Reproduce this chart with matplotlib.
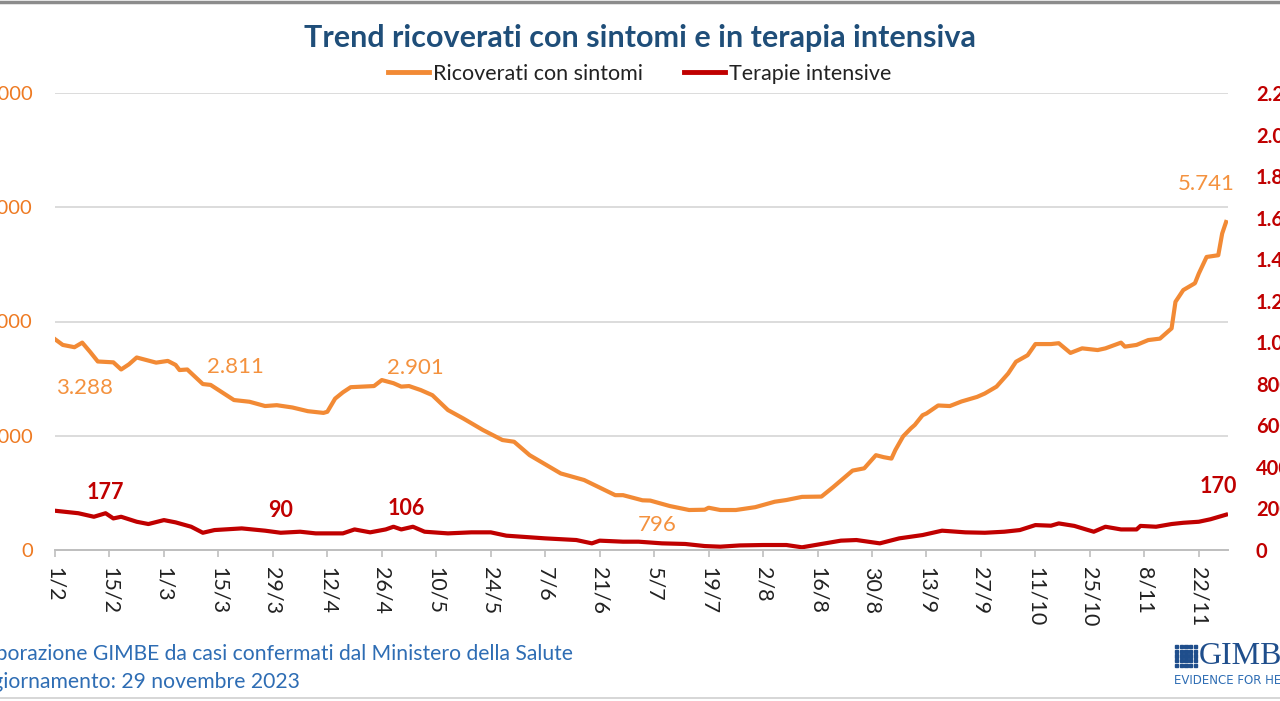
import numpy as np
import pandas as pd
import matplotlib.pyplot as plt
from matplotlib.lines import Line2D
from matplotlib.patches import Rectangle
from matplotlib.ticker import FuncFormatter

plt.rcParams['font.family'] = ['Lato', 'DejaVu Sans']

# ---- Dati (giorni dal 1/2/2023) ----
inizio = pd.Timestamp("2023-02-01")

giorni_ric = [0, 2, 5, 7, 9, 11, 15, 17, 19, 21, 26, 29, 31, 32, 34, 38, 40, 46, 50,
              54, 57, 61, 65, 69, 70, 72, 74, 76, 82, 84, 87, 89, 91, 94, 97, 101,
              105, 110, 115, 118, 122, 130, 136, 144, 146, 151, 153, 158, 163, 167,
              168, 171, 175, 180, 185, 188, 192, 197, 200, 205, 208, 211, 213, 215,
              216, 218, 220, 221, 223, 224, 227, 230, 233, 237, 239, 242, 245, 247,
              250, 252, 256, 258, 261, 264, 268, 270, 274, 275, 278, 281, 284, 287,
              288, 290, 293, 294, 296, 299, 300, 301]
ricoverati = [3690, 3590, 3550, 3630, 3470, 3300, 3285, 3160, 3250, 3370, 3280, 3310,
              3240, 3150, 3160, 2905, 2890, 2625, 2595, 2520, 2535, 2495, 2430, 2400,
              2420, 2650, 2760, 2850, 2870, 2975, 2920, 2860, 2870, 2800, 2710, 2450,
              2300, 2100, 1925, 1895, 1660, 1340, 1225, 960, 960, 870, 865, 770, 700,
              705, 740, 700, 700, 750, 845, 875, 930, 935, 1100, 1390, 1430, 1660,
              1625, 1600, 1750, 1990, 2130, 2190, 2360, 2390, 2530, 2520, 2600, 2680,
              2740, 2860, 3090, 3295, 3410, 3605, 3605, 3620, 3450, 3530, 3500, 3530,
              3630, 3560, 3590, 3675, 3700, 3880, 4345, 4550, 4670, 4840, 5130, 5160,
              5540, 5741]

giorni_ti = [0, 6, 10, 13, 15, 17, 21, 24, 28, 31, 35, 38, 41, 48, 54, 58, 63, 67, 74,
             77, 81, 85, 87, 89, 92, 95, 101, 107, 112, 116, 126, 134, 138, 140, 146,
             150, 156, 162, 167, 171, 176, 182, 188, 192, 197, 202, 206, 209, 212,
             217, 223, 228, 234, 239, 244, 248, 252, 256, 258, 262, 265, 267, 270,
             274, 278, 279, 283, 287, 290, 294, 297, 301]
terapie = [189, 177, 160, 177, 152, 160, 136, 125, 144, 133, 112, 83, 96, 104, 93, 83,
           88, 80, 80, 99, 85, 99, 112, 99, 112, 88, 80, 85, 85, 69, 56, 48, 32, 45,
           40, 40, 32, 29, 19, 16, 22, 24, 24, 13, 29, 45, 48, 40, 32, 56, 72, 93, 85,
           83, 88, 96, 120, 117, 128, 116, 99, 88, 112, 99, 99, 116, 112, 125, 131,
           136, 148, 170]

# Etichette dei valori: (testo, giorno, valore)
etichette_ric = [("3.288", 7.7, 2830), ("2.811", 46.5, 3200), ("2.901", 92.5, 3190),
                 ("796", 154.7, 440), ("5.741", 296, 6400)]
etichette_ti = [("177", 12.9, 279), ("90", 58, 188), ("106", 90.2, 202), ("170", 299, 308)]

date_ric = inizio + pd.to_timedelta(giorni_ric, unit="D")
date_ti = inizio + pd.to_timedelta(giorni_ti, unit="D")
tick_date = pd.date_range("2023-02-01", "2023-11-22", freq="14D")

ARANCIO = "#F28A35"
ARANCIO_TXT = "#F4923F"
ROSSO = "#C00000"
BLU = "#1F4E79"

fig = plt.figure(figsize=(12.8, 7.01), dpi=100)
ax = fig.add_axes([55 / 1280, 1 - 550 / 701, (1228 - 55) / 1280, (550 - 93) / 701])
ax2 = ax.twinx()

ax.plot(date_ric, ricoverati, color=ARANCIO, lw=3, solid_joinstyle="round")
ax2.plot(date_ti, terapie, color=ROSSO, lw=3, solid_joinstyle="round")

ax.set_xlim(inizio, inizio + pd.Timedelta(days=301.5))
ax.set_ylim(0, 8000)
ax2.set_ylim(0, 2200)
ax.set_yticks(range(0, 8001, 2000))
ax2.set_yticks(range(0, 2201, 200))

fmt = FuncFormatter(lambda v, p: f"{int(v):,}".replace(",", "."))
ax.yaxis.set_major_formatter(fmt)
ax2.yaxis.set_major_formatter(fmt)

ax.set_xticks(tick_date)
ax.set_xticklabels([f"{d.day}/{d.month}" for d in tick_date], rotation=-90,
                   fontsize=15.5, color="#222222", va="top", ha="center")
ax.tick_params(axis="x", direction="out", length=5, width=1.2, color="#BFBFBF", pad=7)
ax.tick_params(axis="y", length=0, pad=16, labelsize=14.5, labelcolor="#EE7A22")
ax2.tick_params(axis="y", length=0, pad=20, labelsize=14.5, labelcolor=ROSSO)
for t in ax2.get_yticklabels():
    t.set_fontweight("bold")

ax.grid(True, axis="y", color="#D9D9D9", lw=1.3)
ax.set_axisbelow(True)
for a in (ax, ax2):
    for s in ("left", "right", "top"):
        a.spines[s].set_visible(False)
    a.spines["bottom"].set_color("#BFBFBF")
    a.spines["bottom"].set_linewidth(1.3)

for testo, g, v in etichette_ric:
    ax.text(inizio + pd.Timedelta(days=g), v, testo, ha="center", va="center",
            fontsize=16, color=ARANCIO_TXT)
for testo, g, v in etichette_ti:
    ax2.text(inizio + pd.Timedelta(days=g), v, testo, ha="center", va="center",
             fontsize=15.5, color=ROSSO, fontweight="bold")

# titolo e legenda
fig.text(0.5, 1 - 38 / 701, "Trend ricoverati con sintomi e in terapia intensiva",
         ha="center", va="center", fontsize=22, fontweight="bold", color=BLU)
maniglie = [Line2D([], [], color=ARANCIO, lw=3.5), Line2D([], [], color=ROSSO, lw=3.5)]
fig.legend(maniglie, ["Ricoverati con sintomi", "Terapie intensive"],
           loc="center", bbox_to_anchor=(0.5, 1 - 74 / 701), ncol=2, frameon=False,
           fontsize=15.5, handlelength=1.9, handletextpad=0.2, columnspacing=1.9,
           labelcolor="#222222")

# note in basso
fig.text(573 / 1280, 1 - 654 / 701,
         "Elaborazione GIMBE da casi confermati dal Ministero della Salute",
         ha="right", va="center", fontsize=15.2, color="#2E6DB4")
fig.text(300 / 1280, 1 - 682 / 701, "Aggiornamento: 29 novembre 2023",
         ha="right", va="center", fontsize=15.2, color="#2E6DB4")

# logo GIMBE
for i in range(5):
    for j in range(5):
        fig.patches.append(Rectangle(((1175 + i * 4.7) / 1280, 1 - (645 + j * 4.7 + 3.2) / 701),
                                     3.2 / 1280, 3.2 / 701, transform=fig.transFigure,
                                     color="#1F4E8C"))
fig.text(1199 / 1280, 1 - 656 / 701, "GIMBE", ha="left", va="center",
         fontsize=23, family="Liberation Serif", color="#1F4E8C")
fig.text(1174 / 1280, 1 - 681 / 701, "EVIDENCE FOR HEALTH", ha="left", va="center",
         fontsize=8.5, family="DejaVu Sans", color="#2E6DB4")

# cornici
fig.add_artist(Line2D([0, 1], [1 - 1.5 / 701] * 2, transform=fig.transFigure,
                      color="#8C8C8C", lw=2.5))
fig.add_artist(Line2D([0, 1], [1 - 698 / 701] * 2, transform=fig.transFigure,
                      color="#D0D0D0", lw=1.2))

fig.savefig("out.png", dpi=100)
